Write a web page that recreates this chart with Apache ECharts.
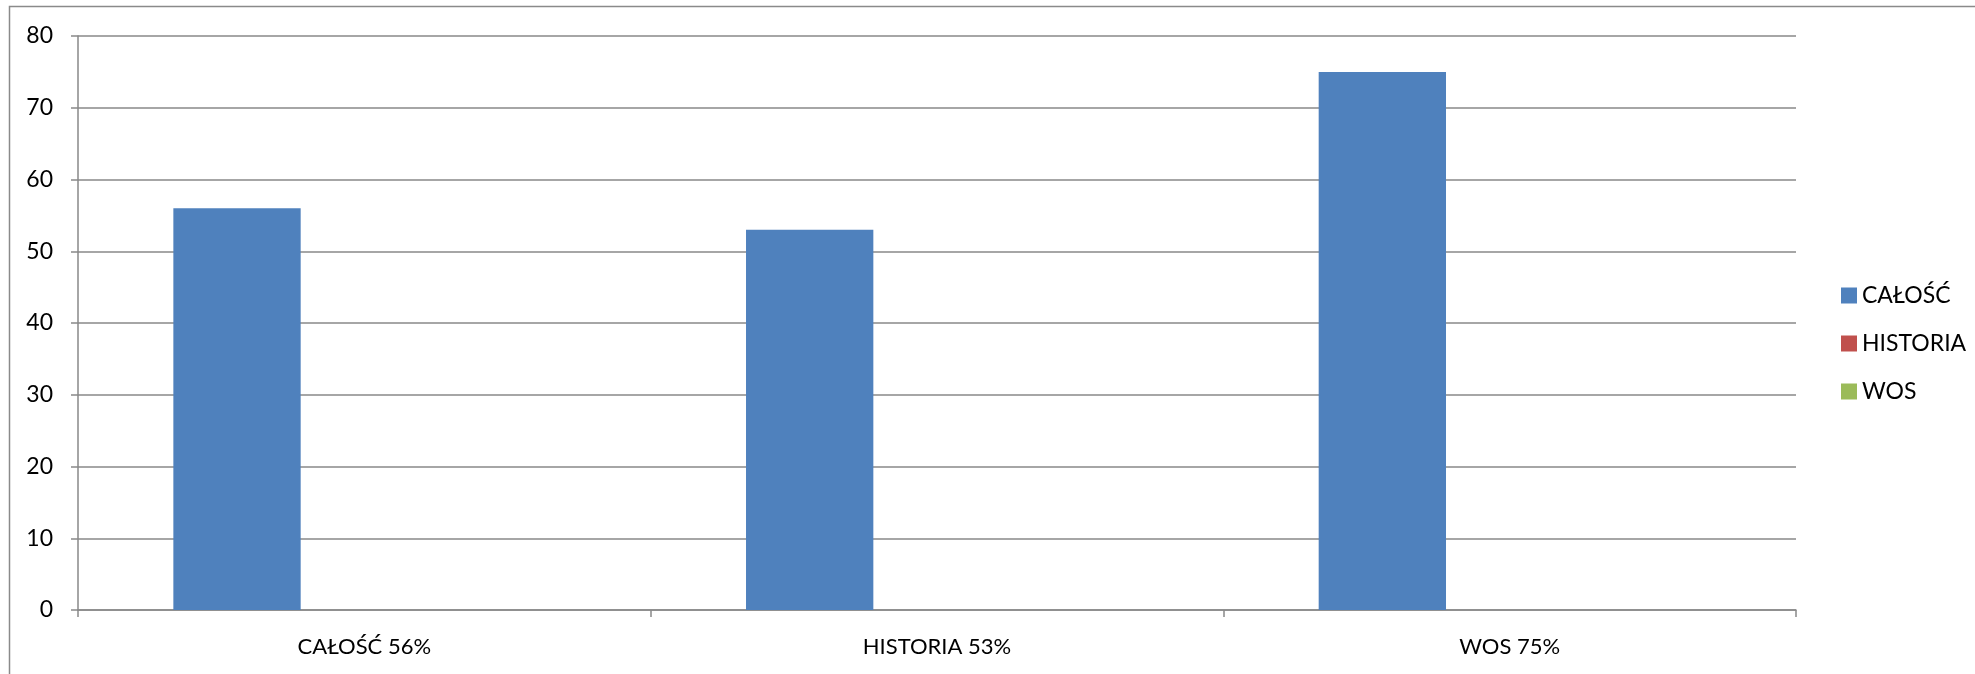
<!DOCTYPE html>
<html>
<head>
<meta charset="utf-8">
<script src="https://cdn.jsdelivr.net/npm/echarts@6/dist/echarts.min.js"></script>
<style>
  html, body { margin: 0; padding: 0; background: #fff; }
  #chart { width: 1975px; height: 674px; }
</style>
</head>
<body>
<div id="chart"></div>
<script>
// categories on the x axis
const categories = ['CAŁOŚĆ 56%', 'HISTORIA 53%', 'WOS 75%'];
// series names (legend)
const seriesNames = ['CAŁOŚĆ', 'HISTORIA', 'WOS'];
// values: only the first series carries data in the source chart
const calosc = [56, 53, 75];
const historia = [null, null, null];
const wos = [null, null, null];
const yTicks = [0, 10, 20, 30, 40, 50, 60, 70, 80];

const colors = ['#4F81BD', '#C0504D', '#9BBB59'];
const font = 'Lato, "Open Sans", sans-serif';
const gridGray = '#898989';

const chart = echarts.init(document.getElementById('chart'));

chart.setOption({
  backgroundColor: '#fff',
  animation: false,
  color: colors,
  textStyle: { fontFamily: font, color: '#000' },
  graphic: [{
    type: 'rect',
    shape: { x: 9.5, y: 6.5, width: 2100, height: 800 },
    style: { fill: 'none', stroke: '#8a8a8a', lineWidth: 1.5 },
    silent: true
  }],
  grid: { left: 78, right: 179, top: 36, bottom: 64 },
  legend: {
    orient: 'vertical',
    left: 1836,
    top: 279,
    itemWidth: 16,
    itemHeight: 16,
    itemGap: 25,
    icon: 'rect',
    data: seriesNames,
    textStyle: { fontSize: 23, fontFamily: font, color: '#000' }
  },
  xAxis: {
    type: 'category',
    data: categories,
    boundaryGap: true,
    axisLine: { lineStyle: { color: gridGray, width: 1.5 } },
    axisTick: { show: true, length: 7, lineStyle: { color: gridGray, width: 1.5 } },
    axisLabel: { fontSize: 22, margin: 26, color: '#000', fontFamily: font },
    splitLine: { show: false }
  },
  yAxis: {
    type: 'value',
    min: yTicks[0],
    max: yTicks[yTicks.length - 1],
    interval: 10,
    axisLine: { show: true, lineStyle: { color: gridGray, width: 1.5 } },
    axisTick: { show: true, length: 7, lineStyle: { color: gridGray, width: 1.5 } },
    axisLabel: { fontSize: 23, margin: 25, color: '#000', fontFamily: font },
    splitLine: { show: true, lineStyle: { color: gridGray, width: 1.5 } }
  },
  series: [
    { name: seriesNames[0], type: 'bar', data: calosc, barGap: '0%', barCategoryGap: '33.3%' },
    { name: seriesNames[1], type: 'bar', data: historia, barGap: '0%', barCategoryGap: '33.3%' },
    { name: seriesNames[2], type: 'bar', data: wos, barGap: '0%', barCategoryGap: '33.3%' }
  ]
});
</script>
</body>
</html>
